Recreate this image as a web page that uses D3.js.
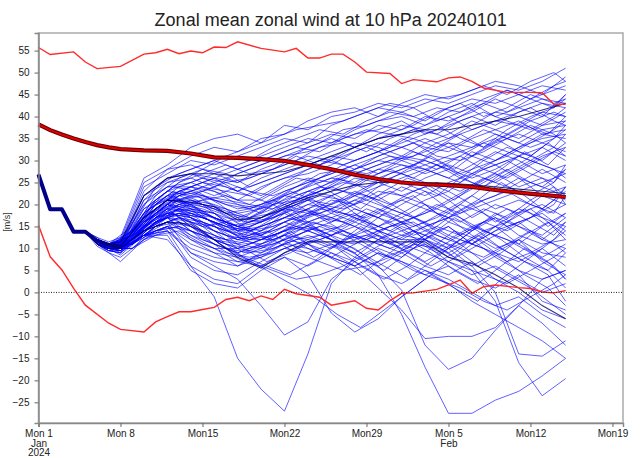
<!DOCTYPE html>
<html>
<head>
<meta charset="utf-8">
<script src="https://cdn.jsdelivr.net/npm/d3@7"></script>
<style>
body { margin: 0; background: #fff; }
text { font-family: "Liberation Sans", Arial, sans-serif; }
</style>
</head>
<body>
<svg id="chart" width="640" height="458"></svg>
<script>
var title = "Zonal mean zonal wind at 10 hPa 20240101";
var unitLabel = "[m/s]";
var weekTicks = [0, 7, 14, 21, 28, 35, 42, 49];
var windTicks = d3.range(-25, 56, 5);

// analysis days shared by every member
var startDays = [0, 1, 2, 3, 4];
var startWind = [26.8, 18.9, 18.9, 13.8, 13.8];

var memberDays = [5, 6, 7, 9, 11, 13, 15, 17, 19, 21, 23, 25, 27, 29, 31, 33, 35, 37, 39, 41, 43, 45];
var members = [
  [12.5,11.5,12.5,26,29,33,35,36,34,38,37,40,41,43,42,44,43,45,47,46,48,51],
  [12,11,12,25,28,31,33,32,35,36,39,41,42,40,43,45,44,46,48,47,45,49],
  [12,10.5,11.5,24,27,30,29,31,33,35,34,38,40,42,41,39,42,44,43,45,47,46],
  [11.5,10.5,11,23,28,29,27,29,31,33,35,34,37,39,40,38,41,43,40,42,44,43],
  [12,11,10.5,22,26,28,30,28,30,32,34,36,35,38,37,40,39,41,44,42,40,45],
  [11.5,10,11,22,25,26,24,27,29,31,32,34,36,37,39,36,38,40,38,41,43,42],
  [12,10.5,10,21,26,27,26,25,28,30,33,35,33,35,36,38,40,37,39,38,41,40],
  [11,10,10.5,21,24,25,27,25,27,29,31,30,33,36,38,37,35,38,41,40,38,39],
  [12,10.5,11,20,25,27,25,23,26,28,30,32,34,33,31,34,36,39,37,35,38,41],
  [11.5,10.5,11.5,20,24,24,26,23,25,27,29,31,30,32,35,33,32,35,37,39,36,35],
  [12,11,10.5,19,23,25,23,21,24,26,27,29,32,34,33,31,34,33,36,34,37,38],
  [11,10,10,19,22,24,22,24,22,25,28,30,28,31,33,35,33,31,34,36,34,32],
  [12,10.5,10.5,18,23,22,24,21,21,24,26,25,27,29,31,30,28,32,30,33,35,36],
  [11.5,10.5,11,18,22,23,21,19,20,23,25,27,29,27,30,32,34,31,29,31,33,30],
  [12,11,11.5,17,21,24,23,20,19,22,24,26,25,28,27,29,31,33,35,32,30,34],
  [11,10,10.5,17,21,21,20,18,19,21,23,25,28,30,29,27,29,27,30,33,36,37],
  [11.5,10.5,10,16,20,22,21,20,18,20,22,24,27,26,28,30,28,26,28,31,29,27],
  [12,10.5,11,16,21,20,19,17,16,19,23,22,24,27,29,28,26,29,32,30,27,29],
  [11,9.5,10,15,19,21,19,16,18,22,21,23,26,25,27,25,23,27,25,28,31,33],
  [11.5,10.5,10.5,15,20,19,18,15,17,20,22,24,22,25,23,26,28,25,23,26,24,28],
  [12,11,10.5,16,19,20,17,15,14,18,21,20,23,21,24,22,25,27,29,26,22,24],
  [11,10,9.5,14,18,19,18,14,16,19,18,21,20,23,22,24,21,24,27,24,26,22],
  [11.5,10.5,10.5,15,19,18,16,13,15,17,20,19,22,20,18,21,23,20,22,25,28,25],
  [12,10.5,10,14,17,18,17,14,13,16,19,22,19,17,20,23,19,22,19,21,19,23],
  [11,10,10.5,14,18,17,15,12,14,17,16,18,21,19,16,18,21,17,20,18,22,20],
  [11.5,10.5,9.5,13,17,16,15,13,12,15,18,17,15,18,21,19,17,20,16,19,17,15],
  [12,11,11,15,18,17,14,12,11,14,17,19,17,15,17,20,16,14,18,15,13,17],
  [11,9.5,9.5,13,16,15,13,11,13,16,14,16,19,17,14,16,19,15,13,16,18,14],
  [11.5,10.5,10.5,14,17,15,12,10,12,14,15,13,16,19,17,14,12,15,17,13,11,12],
  [11,10,10,13,15,14,12,11,10,13,16,15,13,15,18,16,13,11,14,16,12,10],
  [12,10.5,10.5,14,16,13,11,9,11,13,12,14,17,14,12,15,17,13,10,12,9,8],
  [11,9.5,9,13,15,12,10,10,9,12,14,12,11,14,16,12,9,12,15,11,8,11],
  [11.5,10.5,10,13,15,11,9,8,10,12,11,13,15,12,10,13,15,11,9,7,10,6],
  [11,9,7,12,14,10,8,7,8,11,13,11,9,12,14,11,8,6,9,12,7,4],
  [11,10,9.5,13,14,9,7,6,9,11,10,8,11,13,10,7,10,12,8,5,3,5],
  [10.5,9,8,12,15,8,5,4,7,10,9,11,8,6,9,11,7,4,6,3,0,2],
  [11,9.5,9,13,14,6,3,2,6,9,11,8,6,9,7,4,6,3,1,4,-2,-4],
  [11.5,10,9.5,13,13,5,2,1,5,8,6,9,7,4,2,5,3,0,-3,-1,-5,-8],
  [11,10,8.5,13,12,6,-1,-15,-22,-27,-14,2,8,12,15,13,10,14,17,15,12,16],
  [11.5,10.5,9,14,16,9,6,3,-3,-9.7,-6.7,3,7,10,8,12,15,11,14,18,20,17],
  [12,10,9.5,15,17,13,10,7,6,8,4,-4.7,-9,-6,-1,3,7,10,13,11,15,18],
  [11.5,10,10,16,19,15,12,10,12,14,11,9,6,1,-4,-10.5,-10,-10,-8,-3,3,5],
  [12,10.5,10,17,20,17,14,12,13,15,14,12,10,6,0.5,-12,-17.5,-15,-8.6,-3,-7,-12],
  [12.5,10.5,10.5,18,22,20,17,15,16,18,15,12,9,4,-5,-17,-27.5,-27.5,-24.5,-22.5,-19,-15],
  [11,9.5,9,16,20,18,16,14,15,17,19,16,18,15,13,12,10,6,0,-14,-14.5,-11],
  [12,10,10,17,21,19,17,15,17,19,21,18,16,14,12,12,9,5,-2,-16,-23.5,-19.6],
  [11.5,10,9.5,15,18,14,11,9,11,13,10,8,6,9,7,5,2,-2,-5,-8,-11,-15],
  [12,10.5,10,14,17,12,9,6,8,10,12,10,13,11,9,6,4,7,3,0,-4,-6]
];

// second batch of members, saved on the even days
var memberDaysB = [5, 6, 8, 10, 12, 14, 16, 18, 20, 22, 24, 26, 28, 30, 32, 34, 36, 38, 40, 42, 44, 45];
var membersB = [
  [12,11,15,24,27,29,31,30,33,35,37,36,39,41,40,42,41,43,46,44,47,48],
  [11.5,10.5,14,22,26,28,27,29,31,33,32,35,37,36,38,41,43,40,42,45,43,44],
  [12,11,13,21,25,27,29,27,28,30,33,34,32,35,37,36,39,41,39,37,40,42],
  [11,10.5,14,20,24,26,25,26,28,31,29,32,34,36,35,33,36,38,40,42,39,38],
  [11.5,10,12,19,23,25,27,24,26,28,30,29,31,33,36,38,35,33,36,39,41,40],
  [12,11,13,20,22,24,23,22,25,27,29,31,33,31,29,32,34,37,35,33,35,37],
  [11,10,12,18,22,23,25,23,22,24,27,28,30,32,34,31,30,32,35,38,36,34],
  [11.5,10.5,13,19,23,22,21,20,23,26,25,27,29,31,30,28,31,34,32,30,33,36],
  [12,11,12,18,21,22,20,19,21,23,26,28,27,29,32,30,27,29,31,34,37,39],
  [11,10,11,17,20,21,22,20,19,22,24,23,26,28,26,29,31,28,26,29,32,31],
  [11.5,10.5,12,18,21,20,19,17,20,21,23,25,24,27,29,27,25,28,30,27,25,28],
  [12,10.5,11,16,19,21,18,17,18,20,22,21,24,26,24,22,26,24,27,30,28,26],
  [11,10,12,17,20,19,17,16,17,19,21,23,22,20,23,25,23,26,24,22,25,29],
  [11.5,10.5,11,16,19,18,16,14,16,18,20,19,21,23,21,19,22,25,28,25,23,21],
  [12,11,12,17,18,17,15,14,15,17,18,20,22,19,17,20,18,21,23,20,18,22],
  [11,10,10,15,17,16,14,13,14,16,19,18,17,20,22,18,16,19,17,21,24,20],
  [11.5,10.5,11,16,18,17,15,12,13,15,17,16,19,17,15,17,20,18,15,17,20,24],
  [12,10.5,11,15,17,15,13,12,12,14,16,18,16,14,17,19,17,14,16,19,15,13],
  [11,10,10,14,16,14,12,11,13,15,14,15,18,16,13,15,13,16,19,16,13,16],
  [11.5,10,11,14,15,13,11,10,11,13,15,13,12,15,16,13,11,14,12,9,12,15],
  [12,11,11,15,16,12,10,9,10,12,13,11,13,11,14,12,10,8,11,14,11,9],
  [11,10,10,13,14,11,9,8,9,11,12,14,12,10,12,9,12,10,7,9,6,3],
  [11.5,10.5,11,14,15,13,12,13,15,17,19,21,23,25,27,29,26,30,33,31,35,38],
  [12,11,12,16,18,16,14,15,17,20,23,26,28,30,31,34,36,33,37,40,42,44],
  [11,10,11,15,17,15,16,18,21,24,26,29,31,33,35,37,40,43,41,44,46,47],
  [11.5,10.5,13,19,22,24,26,28,30,32,34,37,38,40,42,39,41,44,46,44,42,45],
  [12,11,14,21,25,28,31,33,35,37,38,39,41,43,42,44,45,47,45,48,50,48],
  [11,10,12,18,22,20,18,19,21,19,18,16,14,12,10,8,6,4,2,5,8,10],
  [11.5,10.5,12,17,19,17,15,16,18,20,17,14,11,8,5,3,1,-2,-4,-1,2,4],
  [12,11,13,20,23,25,24,22,20,17,14,12,13,15,17,14,11,7,4,1,-3,-5],
  [11,10,11,16,18,14,10,7,5,3,4,6,9,12,14,16,18,20,22,24,26,27],
  [11.5,10.5,12,17,19,18,16,14,12,9,7,5,6,8,11,10,13,16,14,17,21,24]
];

// third batch, saved on the half days
var memberDaysC = [5, 6, 7.5, 9.5, 11.5, 13.5, 15.5, 17.5, 19.5, 21.5, 23.5, 25.5, 27.5, 29.5, 31.5, 33.5, 35.5, 37.5, 39.5, 41.5, 43.5, 45];
var membersC = [
  [11.5,10.5,11,17,20,16,12,8,6,4,7,11,8,5,9,13,10,6,9,13,16,12],
  [12,11,12,18,22,19,14,10,7,9,12,10,6,3,6,10,14,12,8,4,1,-3],
  [11,10,10,16,19,17,13,9,11,14,10,7,4,8,12,9,5,2,6,10,7,3],
  [11.5,10,11,15,18,14,10,7,9,12,15,12,9,6,3,7,11,15,12,8,5,1],
  [12,10.5,12,19,23,21,17,13,16,19,15,11,14,18,15,11,8,12,16,19,15,18],
  [11,10,10.5,16,20,18,15,12,14,11,8,11,15,12,9,6,9,13,10,7,11,14],
  [11.5,10.5,11,17,21,20,18,15,12,15,18,21,17,13,10,14,18,21,25,22,18,20],
  [12,11,12,20,24,23,20,16,19,22,25,22,19,23,26,24,21,25,28,32,29,33],
  [11,10,10,15,18,15,11,8,5,2,-1,-5,-8,-4,0,4,1,-2,3,7,5,9],
  [11.5,10.5,11,18,21,19,16,14,17,20,23,26,24,21,18,15,19,23,27,30,34,31],
  [12,11,12,19,22,18,15,12,10,13,16,14,11,8,10,13,17,14,10,7,4,-2],
  [11,10,10.5,17,21,22,19,17,20,23,21,18,21,25,28,31,28,32,35,38,36,40]
];

// ensemble mean and outer percentiles (dark lines)
var ensMean = [11.7,10.8,10.4,17,21,20.5,19.5,16.5,17,19.5,21.5,23,24.4,25,25,25,24.8,24.5,24,23.5,23,22.5];
var ensHigh = [12,11,11.5,22,26,27,27,26.5,27,27.5,29,31,33,35,36,37,37,38,39,40,41.5,43];
var ensLow = [11,10,10,14,16,15.5,12,8,5.5,9,11.5,11.5,11.5,11.5,11.5,11.5,8,6.6,4,1,-3,-6];

var climDays = [0,1,2,3,4,5,6,7,9,11,13,15,17,19,21,23,25,27,29,31,33,35,37,39,41,43,45];
var climMean = [38.2,36.9,35.9,35,34.2,33.5,33,32.6,32.3,32.2,31.6,30.7,30.6,30.3,29.9,29,28,26.8,25.8,25,24.6,24.4,24,23.3,22.7,22.2,21.7];

var maxDays = [0,1,3,4,5,7,9,10,11,12,13,14,15,16,17,19,21,22,23,24,25,26,27,28,30,31,32,34,35,36,37,38,40,42,43,44,45];
var climMax = [55.7,54.1,54.7,52.4,50.9,51.4,54.2,54.5,55.3,54.3,54.9,54.5,55.8,55.7,57,55.5,54.7,55.5,53.3,53.3,54.2,54.2,52.4,50.1,49.8,47.5,48.4,47.9,48.8,49,48,46.5,45.5,45.5,45.4,42.8,42.8];

var minDays = [0,1,2,3,4,6,7,9,10,11,12,13,14,15,16,17,18,19,20,21,22,24,25,27,28,29,30,31,32,34,35,36,37,38,39,41,42,43,44,45];
var climMin = [15.3,8.1,5.1,0.9,-2.9,-7,-8.4,-9,-6.7,-5.5,-4.4,-4.4,-3.9,-3.4,-1.6,-1.1,-1.9,-0.8,-1.6,0.7,-0.3,-1.1,-2.9,-1.9,-3.6,-4,-1.9,-0.2,-0.1,0.7,1.7,2.8,-0.2,1.3,1.7,1.1,0.9,0.1,-0.1,0.4];

var svg = d3.select("#chart");
var plot = {left: 38.5, right: 623, top: 33, bottom: 423};

function dayDate(n) {
  return new Date(Date.UTC(2024, 0, 1) + n * 864e5);
}

var x = d3.scaleUtc().domain([dayDate(0), dayDate(49.9)]).range([plot.left, plot.right]);
var y = d3.scaleLinear().domain([-29.7, 59]).range([plot.bottom, plot.top]);

var line = d3.line()
  .x(function(d) { return x(dayDate(d[0])); })
  .y(function(d) { return y(d[1]); });

function pairs(days, vals) {
  return days.map(function(d, i) { return [d, vals[i]]; });
}
function withStart(vals, days) {
  return pairs(startDays.concat(days || memberDays), startWind.concat(vals));
}

svg.append("rect")
  .attr("x", plot.left).attr("y", plot.top)
  .attr("width", plot.right - plot.left).attr("height", plot.bottom - plot.top)
  .attr("fill", "none")
  .style("stroke", "#aaa")
  .style("stroke-width", 1.5);

// members
var allMembers = members.map(function(m) { return withStart(m, memberDays); })
  .concat(membersB.map(function(m) { return withStart(m, memberDaysB); }))
  .concat(membersC.map(function(m) { return withStart(m, memberDaysC); }));
svg.append("g").selectAll("path").data(allMembers).enter()
  .append("path")
    .attr("d", line)
    .style("fill", "none")
    .style("stroke", "#0000ff")
    .style("stroke-opacity", 0.62)
    .style("stroke-width", 1);

// dark lines
[ensHigh, ensMean, ensLow].forEach(function(vals) {
  svg.append("path")
    .attr("d", line(withStart(vals)))
    .style("fill", "none")
    .style("stroke", "#00005a")
    .style("stroke-opacity", 0.8)
    .style("stroke-width", 1.1);
});
// analysis period drawn thick
svg.append("path")
  .attr("d", line(withStart(ensMean).filter(function(d) { return d[0] <= 7; })))
  .style("fill", "none")
  .style("stroke", "#00008a")
  .style("stroke-width", 4)
  .style("stroke-linejoin", "round");

// climatology
svg.append("path")
  .attr("d", line(pairs(climDays, climMean)))
  .style("fill", "none")
  .style("stroke", "#6a0000")
  .style("stroke-width", 4.2);
svg.append("path")
  .attr("d", line(pairs(climDays, climMean)))
  .style("fill", "none")
  .style("stroke", "#e00000")
  .style("stroke-width", 2);

[[maxDays, climMax], [minDays, climMin]].forEach(function(s) {
  svg.append("path")
    .attr("d", line(pairs(s[0], s[1])))
    .style("fill", "none")
    .style("stroke", "#ff2a2a")
    .style("stroke-width", 1.4);
});

svg.append("line")
  .attr("x1", plot.left).attr("x2", plot.right)
  .attr("y1", y(0)).attr("y2", y(0))
  .style("stroke", "#222")
  .style("stroke-width", 1)
  .style("stroke-dasharray", "1,1.5");

// axes
var fmtDay = d3.utcFormat("%a%e"), fmtMon = d3.utcFormat("%b"), fmtYear = d3.utcFormat("%Y");
var xAxis = svg.append("g")
  .attr("transform", "translate(0," + plot.bottom + ")")
  .call(d3.axisBottom(x)
    .tickValues(weekTicks.map(dayDate))
    .tickSize(4)
    .tickFormat(""));
xAxis.selectAll(".tick").append("text")
  .attr("fill", "#222")
  .attr("font-size", "10px")
  .attr("text-anchor", "middle")
  .each(function(d, i) {
    var lines = [fmtDay(d)];
    if (d.getUTCDate() <= 7) lines.push(fmtMon(d));
    if (i === 0) lines.push(fmtYear(d));
    var t = d3.select(this);
    lines.forEach(function(s, j) {
      t.append("tspan").attr("x", 0).attr("y", 14 + j * 9.5).text(s);
    });
  });

var yAxis = svg.append("g")
  .attr("transform", "translate(" + plot.left + ",0)")
  .call(d3.axisLeft(y).tickValues(windTicks).tickSize(4).tickPadding(5));
yAxis.selectAll("text").attr("font-size", "10px").attr("fill", "#222")
  .style("font-family", "Liberation Sans, Arial, sans-serif");

[xAxis, yAxis].forEach(function(a) {
  a.select(".domain").style("stroke", "#888").style("stroke-width", 1.5);
  a.selectAll(".tick line").style("stroke", "#666");
});

svg.append("text")
  .attr("x", (plot.left + plot.right) / 2)
  .attr("y", 26)
  .attr("text-anchor", "middle")
  .attr("font-size", "18px")
  .attr("fill", "#222")
  .text(title);

svg.append("text")
  .attr("transform", "translate(10,222) rotate(-90)")
  .attr("text-anchor", "middle")
  .attr("font-size", "9px")
  .attr("fill", "#333")
  .text(unitLabel);
</script>
</body>
</html>
